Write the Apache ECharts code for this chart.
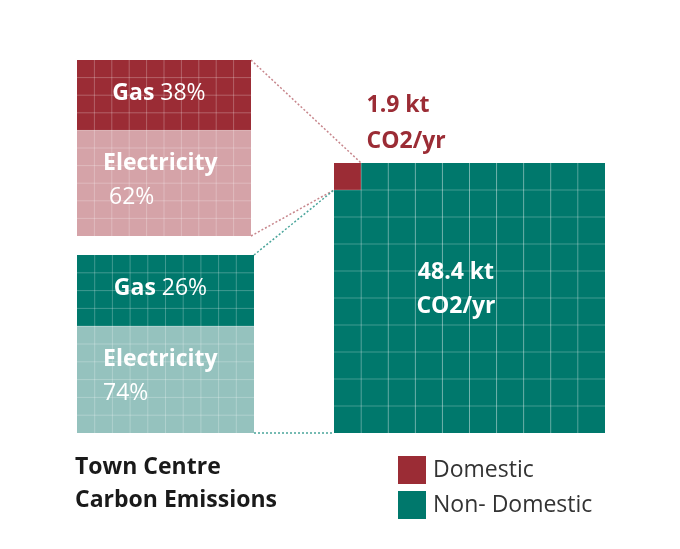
<!DOCTYPE html>
<html>
<head>
<meta charset="utf-8">
<script src="https://cdn.jsdelivr.net/npm/echarts@6/dist/echarts.min.js"></script>
<style>
html,body{margin:0;padding:0;background:#fff}
#main{width:680px;height:549px}
</style>
</head>
<body>
<div id="main"></div>
<script>
var sectors = ['Domestic', 'Non- Domestic'];
var totals = [1.9, 48.4];              // kt CO2/yr
var fuels = ['Gas', 'Electricity'];
var domesticSplit = [38, 62];          // %
var nonDomesticSplit = [26, 74];       // %
// rows of the 10x10 breakdown squares given to each fuel, as drawn
var domesticRows = [4, 6];
var nonDomesticRows = [4, 6];
// cells of the 10x10 main square given to each sector, as drawn
var mainCells = [1, 99];

var dark = ['#9b2c35', '#00786c'];
var light = ['#d5a3a8', '#95c2be'];
var lineCol = 'rgba(255,255,255,0.25)';
var font = '"Open Sans", sans-serif';

var chart = echarts.init(document.getElementById('main'));

function axes(n, type) {
    var out = [];
    for (var i = 0; i < n; i++) {
        out.push({type: 'value', gridIndex: i, min: 0, max: 10, show: false, inverse: type == 'y'});
    }
    return out;
}

function rectOf(api, x0, x1, y0, y1) {
    var p0 = api.coord([x0, y0]);
    var p1 = api.coord([x1, y1]);
    return {
        x: Math.min(p0[0], p1[0]), y: Math.min(p0[1], p1[1]),
        width: Math.abs(p1[0] - p0[0]), height: Math.abs(p1[1] - p0[1])
    };
}

function gridLines(gi) {
    return {
        type: 'custom', xAxisIndex: gi, yAxisIndex: gi, silent: true, z: 5,
        data: [1, 2, 3, 4, 5, 6, 7, 8, 9],
        renderItem: function (params, api) {
            var k = api.value(0);
            var a = api.coord([k, 0]), b = api.coord([k, 10]);
            var c = api.coord([0, k]), d = api.coord([10, k]);
            return {
                type: 'group', children: [
                    {type: 'line', shape: {x1: a[0], y1: a[1], x2: b[0], y2: b[1]}, style: {stroke: lineCol, lineWidth: 1}},
                    {type: 'line', shape: {x1: c[0], y1: c[1], x2: d[0], y2: d[1]}, style: {stroke: lineCol, lineWidth: 1}}
                ]
            };
        }
    };
}

var rich = {
    b: {fontWeight: 'bold', fontSize: 23, fontFamily: font, fill: '#fff', color: '#fff', lineHeight: 34},
    r: {fontWeight: 'normal', fontSize: 23, fontFamily: font, fill: '#fff', color: '#fff', lineHeight: 34}
};

function breakdown(gi, name, rows, split, si, pad) {
    var blocks = [];
    var y = 0;
    rows.forEach(function (r, i) {
        blocks.push([0, 10, y, y + r, i]);
        y += r;
    });
    return {
        type: 'custom', name: name, xAxisIndex: gi, yAxisIndex: gi, z: 3,
        data: blocks,
        renderItem: function (params, api) {
            var i = api.value(4);
            var r = rectOf(api, api.value(0), api.value(1), api.value(2), api.value(3));
            var txt;
            if (i == 0) {
                txt = {type: 'text', style: {
                    text: '{b|' + fuels[0] + '}{r|\u00a0' + split[0] + '%}', rich: rich,
                    x: r.x + r.width / 2 - 5, y: r.y + r.height / 2 - 2,
                    align: 'center', verticalAlign: 'middle', fill: '#fff'
                }};
            } else {
                txt = {type: 'text', style: {
                    text: '{b|' + fuels[1] + '}\n{r|' + pad + split[1] + '%}', rich: rich,
                    x: r.x + 26, y: r.y + r.height / 2 - 3,
                    align: 'left', verticalAlign: 'middle', fill: '#fff'
                }};
            }
            return {type: 'group', children: [
                {type: 'rect', shape: r, style: {fill: i == 0 ? dark[si] : light[si]}},
                txt
            ]};
        }
    };
}

// cells of main square, each [col, row]
var cellsBySector = [[], []];
var k = 0;
mainCells.forEach(function (n, s) {
    for (var j = 0; j < n; j++, k++) {
        cellsBySector[s].push([k % 10, Math.floor(k / 10)]);
    }
});

function mainSeries(s) {
    return {
        type: 'custom', name: sectors[s], xAxisIndex: 2, yAxisIndex: 2, z: 3,
        itemStyle: {color: dark[s]},
        data: cellsBySector[s],
        renderItem: function (params, api) {
            var c = api.value(0), r = api.value(1);
            return {type: 'rect', shape: rectOf(api, c, c + 1, r, r + 1), style: {fill: dark[s]}};
        }
    };
}

var option = {
    animation: false,
    grid: [
        {left: 77, top: 60, width: 174, height: 176},
        {left: 77, top: 255, width: 177, height: 178},
        {left: 334, top: 163, width: 271, height: 270}
    ],
    xAxis: axes(3, 'x'),
    yAxis: axes(3, 'y'),
    legend: {
        data: sectors, orient: 'vertical', left: 393, top: 451,
        icon: 'rect', itemWidth: 28, itemHeight: 28, itemGap: 7,
        selectedMode: false,
        textStyle: {fontSize: 23, color: '#333', fontFamily: font, padding: [0, 0, 2, 2]}
    },
    series: [
        breakdown(0, 'Domestic split', domesticRows, domesticSplit, 0, '\u00a0'),
        breakdown(1, 'Non-domestic split', nonDomesticRows, nonDomesticSplit, 1, ''),
        mainSeries(0),
        mainSeries(1),
        gridLines(0),
        gridLines(1),
        gridLines(2)
    ]
};
chart.setOption(option);

// connectors and text
function px(gi, p) { return chart.convertToPixel({gridIndex: gi}, p); }
function dotted(a, b, col) {
    return {type: 'line', z: 1, shape: {x1: a[0], y1: a[1], x2: b[0], y2: b[1]},
        style: {stroke: col, lineWidth: 1.5, lineDash: [2, 2]}};
}
var cell = cellsBySector[0][0];
var lab = px(2, [cell[0] + 1.2, cell[1]]);
var mid = px(2, [4.5, 4.6]);

chart.setOption({
    graphic: [
        dotted(px(0, [10, 0]), px(2, [cell[0] + 1, cell[1]]), '#c7868c'),
        dotted(px(0, [10, 10]), px(2, [cell[0], cell[1] + 1]), '#c7868c'),
        dotted(px(1, [10, 0]), px(2, [cell[0], cell[1] + 1]), '#4aa59b'),
        dotted(px(1, [10, 10]), px(2, [0, 10]), '#4aa59b'),
        {type: 'text', z: 10, style: {
            text: totals[0] + ' kt\nCO2/yr', x: lab[0], y: lab[1] - 4,
            align: 'left', verticalAlign: 'bottom', fill: dark[0],
            font: 'bold 23px ' + font, lineHeight: 36
        }},
        {type: 'text', z: 10, style: {
            text: totals[1] + ' kt\nCO2/yr', x: mid[0], y: mid[1] + 2,
            align: 'center', verticalAlign: 'middle', fill: '#fff',
            font: 'bold 23px ' + font, lineHeight: 34
        }},
        {type: 'text', z: 10, style: {
            text: 'Town Centre\nCarbon Emissions', x: 75, y: 484,
            align: 'left', verticalAlign: 'middle', fill: '#1a1a1a',
            font: 'bold 23px ' + font, lineHeight: 33
        }}
    ]
});
</script>
</body>
</html>
